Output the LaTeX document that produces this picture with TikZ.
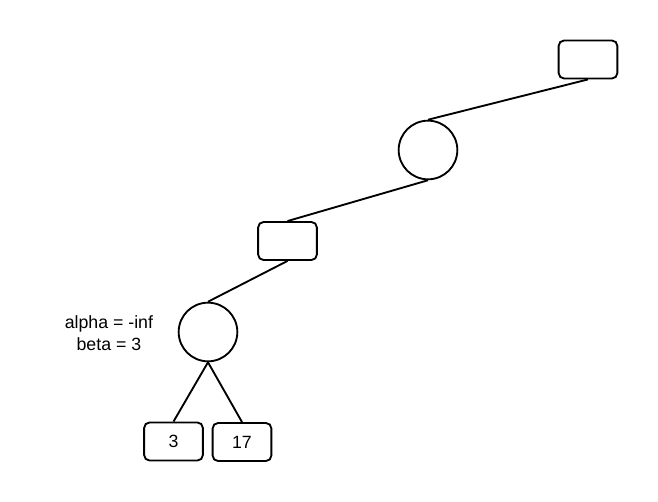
\documentclass[tikz,border=0pt]{standalone}
\usepackage{fontspec}
\setmainfont{Liberation Sans}
\usepackage{tikz}
\usetikzlibrary{positioning}

\begin{document}
\begin{tikzpicture}[x=0.75pt,y=-0.75pt,
    every node/.style={font=\fontsize{13.3}{16.5}\selectfont},
    maxbox/.style={draw,line width=1.4pt,rounded corners=4pt,minimum width=44pt,minimum height=28.5pt,inner sep=0pt},
    minnode/.style={draw,circle,line width=1.4pt,minimum size=44pt,inner sep=0pt},
    edge/.style={line width=1.4pt}]
    \useasboundingbox (0,0) rectangle (658,502);
    \node[maxbox] (root) at (588,59.5) {};
    \node[minnode] (minA) at (428,150) {};
    \node[maxbox] (maxB) at (287.5,241) {};
    \node[minnode] (minC) at (208,332) {};
    \node[maxbox] (leafL) at (173.5,441.5) {3};
    \node[maxbox] (leafR) at (242,442) {17};
    \node[align=center,left=15pt of minC,yshift=-0.5pt] (bounds) {alpha = -inf\\beta = 3};
    \draw[edge] (root.south) -- (minA.north);
    \draw[edge] (minA.south) -- (maxB.north);
    \draw[edge] (maxB.south) -- (minC.north);
    \draw[edge] (minC.south) -- (leafL.north);
    \draw[edge] (minC.south) -- (leafR.north);
\end{tikzpicture}
\end{document}
